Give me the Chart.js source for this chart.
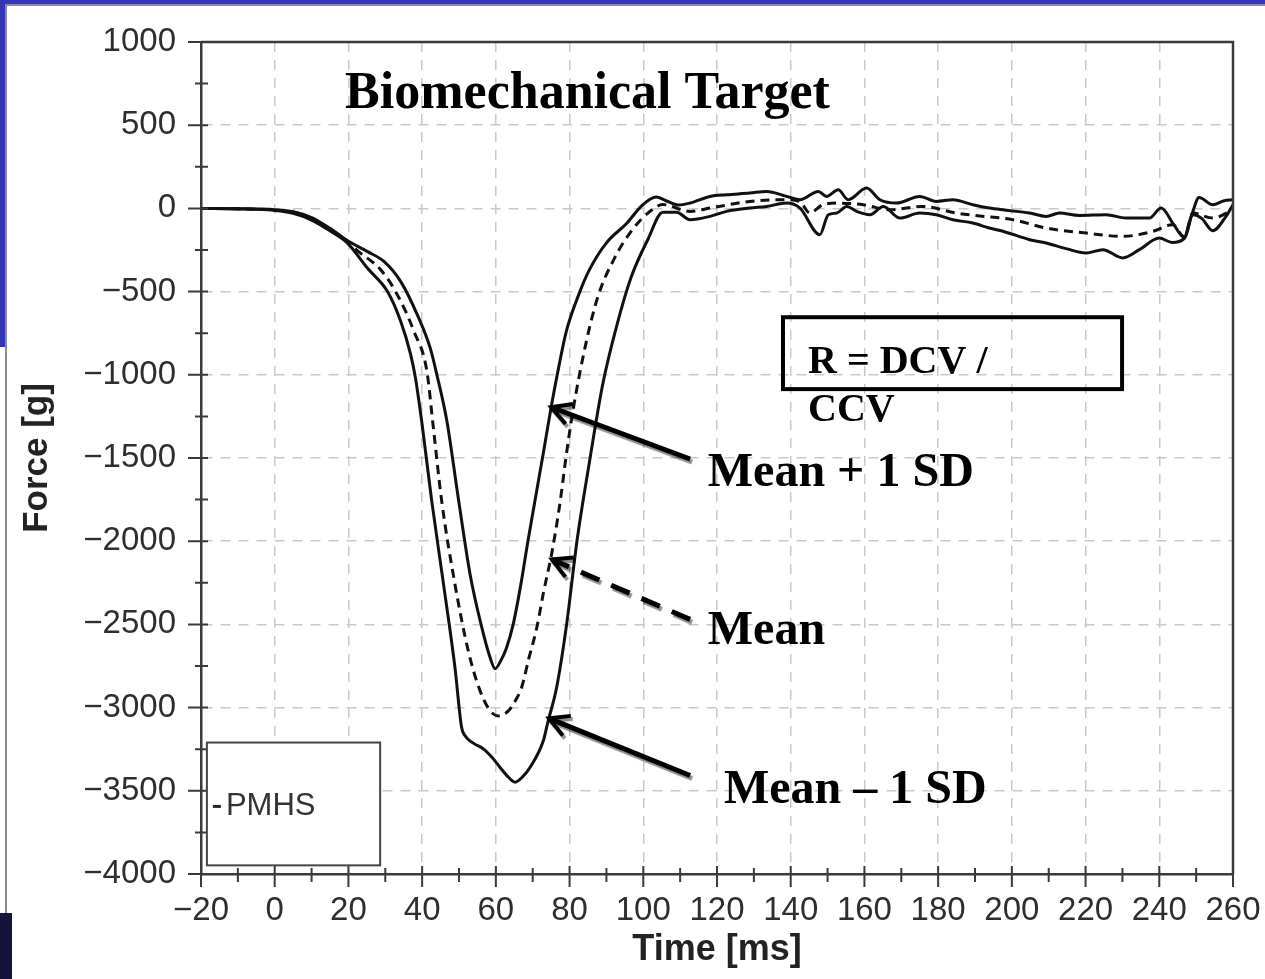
<!DOCTYPE html>
<html>
<head>
<meta charset="utf-8">
<title>PMHS force – biomechanical target</title>
<script src="https://cdn.jsdelivr.net/npm/chart.js@4.4.1/dist/chart.umd.min.js"></script>
<style>
  html, body { margin: 0; padding: 0; background: #fff; overflow: hidden; }
  #wrap { position: relative; width: 1265px; height: 979px; }
  #chart { position: absolute; left: 0; top: 0; }
  .edge { position: absolute; }
</style>
</head>
<body>
<div id="wrap">
  <canvas id="chart" width="1265" height="979"></canvas>
  <!-- slide frame showing around the plot -->
  <div class="edge" style="left:0;top:0;width:1265px;height:4px;background:#3535b5"></div>
  <div class="edge" style="left:0;top:4px;width:1265px;height:2px;background:#8a8a9a"></div>
  <div class="edge" style="left:0;top:0;width:5px;height:347px;background:#3535b5"></div>
  <div class="edge" style="left:5px;top:4px;width:2px;height:975px;background:#8a8a8a"></div>
  <div class="edge" style="left:0;top:913px;width:12px;height:66px;background:#14143a"></div>
</div>
<script>
// axis ticks
const xTicks = [-20, 0, 20, 40, 60, 80, 100, 120, 140, 160, 180, 200, 220, 240, 260];
const yTicks = [-4000, -3500, -3000, -2500, -2000, -1500, -1000, -500, 0, 500, 1000];

// Mean + 1 SD corridor
const upperTime = [-20, -10, 0, 5, 10, 15, 19.8, 25.2, 29.7, 34.2, 38.7, 42.2, 44, 46.7, 49.8,
  53, 56.2, 58.3, 59.8, 61.3, 62.9, 64.7, 66.7, 68.7, 70.6, 72.8, 75, 77, 79.1, 82.7,
  85.4, 90, 95.4, 99.9, 103.5, 106.2, 109.5, 112.7, 118.1, 122.6, 128.9, 133.5, 138.9, 142.5, 147.5,
  149.7, 152.9, 155.6, 160.6, 164.2, 168.7, 175, 179.5, 184, 189.4, 193.9, 198, 204.8, 209.3, 212.9,
  218.3, 225.6, 231, 237.3, 240.5, 244, 246.8, 248.8, 250.8, 254.5, 257.6, 260];
const upperForce = [0, -2, -8, -20, -55, -120, -195, -260, -320, -440, -640, -840, -1000, -1276, -1740,
  -2198, -2520, -2690, -2766, -2720, -2640, -2500, -2270, -2000, -1758, -1480, -1195, -960, -740, -506,
  -368, -207, -92, 23, 69, 46, 20, 32, 72, 82, 92, 102, 72, 52, 102,
  72, 112, 52, 122, 52, 32, 72, 42, 52, 22, 2, -10, -28, -48, -28,
  -42, -38, -58, -58, 2, -100, -175, -40, 66, 22, 46, 52];

// Mean
const meanTime = [-20, -10, 0, 5, 10, 15, 19.8, 22.5, 28.8, 33.3, 37.8, 41.3, 43, 45.3, 48.9,
  52.5, 55.7, 58.4, 60.6, 62.2, 63.8, 65.5, 67, 69, 71.1, 73, 75.1, 77.4, 79, 80.9,
  84.5, 87.7, 92.2, 96.7, 102.2, 105.3, 112.7, 118.1, 128.9, 138.9, 142.5, 145.2, 148.5, 152.5, 159.7,
  166.9, 175.9, 184.9, 191.3, 200.3, 209.3, 220.1, 230.1, 238.2, 243.6, 246.8, 249.1, 254.5, 260];
const meanForce = [0, -2, -10, -22, -60, -125, -200, -255, -370, -520, -740, -980, -1310, -1758, -2258,
  -2658, -2898, -3018, -3050, -3040, -3010, -2950, -2878, -2700, -2520, -2300, -2080, -1770, -1500, -1218,
  -805, -529, -299, -138, -11, 23, -18, 2, 42, 52, 40, -28, 20, 32, 22,
  -8, 12, -28, -45, -68, -118, -148, -168, -138, -98, -170, -28, -58, -8];

// Mean - 1 SD corridor
const lowerTime = [-20, -10, 0, 5, 10, 15, 19.8, 25.2, 30.6, 34.2, 36.9, 38.2, 40, 42.6, 45.8,
  48.9, 50.7, 51.6, 54, 56.6, 59, 61.1, 63.5, 65.2, 67.3, 69.3, 72.9, 74.1, 76.5, 79.2,
  82, 85.2, 89, 92.7, 96.7, 101.3, 105.3, 109, 112.7, 118.1, 122.6, 128.9, 133.5, 138.9, 142.5,
  147.9, 150.2, 152.5, 155.2, 157.9, 161.5, 165.1, 169.6, 175, 179.5, 184, 189.4, 193.9, 198, 204.8,
  209.3, 214.7, 220.1, 224.7, 230.1, 234.6, 240, 243.5, 246.8, 249.1, 251.5, 254.5, 258.1, 260];
const lowerForce = [0, -3, -12, -30, -70, -135, -210, -360, -500, -680, -880, -1020, -1300, -1758, -2258,
  -2758, -3118, -3168, -3215, -3248, -3300, -3358, -3420, -3448, -3415, -3358, -3198, -3088, -2878, -2500,
  -2000, -1550, -1057, -713, -414, -184, -23, -23, -68, -48, -18, 2, 12, 32, 2,
  -158, -38, -28, 12, -18, -38, 12, -58, -28, -38, -68, -88, -118, -140, -188,
  -208, -242, -268, -248, -298, -248, -178, -205, -180, -38, -60, -134, -48, 22];

const legendLabel = 'PMHS';

const sansFont = "'Liberation Sans', Arial, Helvetica, sans-serif";
const serifFont = "'Liberation Serif', 'Times New Roman', serif";
const axisColor = '#3a3a3a';

function points(ts, fs) {
  return ts.map((t, i) => ({x: t, y: fs[i]}));
}

function fmt(v) {
  return v < 0 ? '\u2212' + Math.abs(v) : String(v);
}

// labels and arrows placed in data units
const notes = [
  {text: 'Biomechanical Target', x: 19.1, y: 606, size: 52},
  {text: 'R = DCV /', x: 144.7, y: -990, size: 40},
  {text: 'CCV', x: 144.7, y: -1278, size: 40},
  {text: 'Mean + 1 SD', x: 117.5, y: -1668, size: 48},
  {text: 'Mean', x: 117.5, y: -2616, size: 48},
  {text: 'Mean \u2013 1 SD', x: 121.9, y: -3576, size: 48},
];
const arrows = [
  {from: [112.7, -1506], to: [75, -1195], dashed: false},
  {from: [112.7, -2470], to: [75.2, -2110], dashed: true},
  {from: [112.7, -3408], to: [74.4, -3065], dashed: false},
];
const rBox = {x1: 137.9, y1: -654, x2: 229.9, y2: -1086};
const legendBox = {x1: -18.4, y1: -3210, x2: 28.6, y2: -3948};

function drawArrow(ctx, x1, y1, x2, y2, dashed) {
  const ang = Math.atan2(y2 - y1, x2 - x1);
  ctx.save();
  ctx.strokeStyle = '#000';
  ctx.shadowColor = 'rgba(0,0,0,0.45)';
  ctx.shadowOffsetX = 2;
  ctx.shadowOffsetY = 3;
  ctx.shadowBlur = 1;
  ctx.lineWidth = 5;
  ctx.setLineDash(dashed ? [20, 13] : []);
  ctx.beginPath();
  ctx.moveTo(x1, y1);
  ctx.lineTo(x2, y2);
  ctx.stroke();
  ctx.setLineDash([]);
  ctx.lineWidth = 4;
  const len = 22, spread = 0.5;
  ctx.beginPath();
  ctx.moveTo(x2 - len * Math.cos(ang - spread), y2 - len * Math.sin(ang - spread));
  ctx.lineTo(x2, y2);
  ctx.lineTo(x2 - len * Math.cos(ang + spread), y2 - len * Math.sin(ang + spread));
  ctx.stroke();
  ctx.restore();
}

// frame, crossing tick marks, legend box and annotations
const decorations = {
  id: 'decorations',
  afterDatasetsDraw(chart) {
    const {ctx, chartArea: a, scales: {x, y}} = chart;
    const px = v => x.getPixelForValue(v);
    const py = v => y.getPixelForValue(v);

    ctx.save();
    ctx.strokeStyle = axisColor;
    ctx.lineWidth = 2.5;
    ctx.beginPath();
    ctx.moveTo(a.left, a.top);
    ctx.lineTo(a.right, a.top);
    ctx.lineTo(a.right, a.bottom);
    ctx.stroke();

    // tick marks crossing the axes
    ctx.lineWidth = 2;
    ctx.beginPath();
    yTicks.forEach((v, i) => {
      const yy = py(v);
      ctx.moveTo(a.left - 13, yy);
      ctx.lineTo(a.left + 7, yy);
      if (i < yTicks.length - 1) {
        const ym = py((v + yTicks[i + 1]) / 2);
        ctx.moveTo(a.left - 6, ym);
        ctx.lineTo(a.left + 7, ym);
      }
    });
    xTicks.forEach((v, i) => {
      const xx = px(v);
      ctx.moveTo(xx, a.bottom - 8);
      ctx.lineTo(xx, a.bottom + 13);
      if (i < xTicks.length - 1) {
        const xm = px((v + xTicks[i + 1]) / 2);
        ctx.moveTo(xm, a.bottom - 6);
        ctx.lineTo(xm, a.bottom + 8);
      }
    });
    ctx.stroke();

    // legend
    const lx = px(legendBox.x1), ly = py(legendBox.y1);
    const lw = px(legendBox.x2) - lx, lh = py(legendBox.y2) - ly;
    ctx.fillStyle = '#fff';
    ctx.fillRect(lx, ly, lw, lh);
    ctx.strokeStyle = '#444';
    ctx.lineWidth = 2;
    ctx.strokeRect(lx, ly, lw, lh);
    const midY = ly + lh * 0.52;
    ctx.strokeStyle = '#222';
    ctx.lineWidth = 3;
    ctx.beginPath();
    ctx.moveTo(lx + 6, midY);
    ctx.lineTo(lx + 14, midY);
    ctx.stroke();
    ctx.fillStyle = '#333';
    ctx.font = '31px ' + sansFont;
    ctx.textBaseline = 'middle';
    ctx.fillText(legendLabel, lx + 19, midY);

    // R box
    ctx.strokeStyle = '#000';
    ctx.lineWidth = 4;
    ctx.strokeRect(px(rBox.x1), py(rBox.y1), px(rBox.x2) - px(rBox.x1), py(rBox.y2) - py(rBox.y1));

    // text notes
    ctx.fillStyle = '#000';
    ctx.textBaseline = 'alphabetic';
    notes.forEach(n => {
      ctx.font = 'bold ' + n.size + 'px ' + serifFont;
      ctx.fillText(n.text, px(n.x), py(n.y));
    });
    ctx.restore();

    arrows.forEach(r => drawArrow(ctx, px(r.from[0]), py(r.from[1]), px(r.to[0]), py(r.to[1]), r.dashed));
  }
};

function curve(label, ts, fs, dash) {
  return {
    label: label,
    data: points(ts, fs),
    borderColor: '#111',
    borderWidth: 3,
    borderDash: dash,
    pointRadius: 0,
    fill: false,
    cubicInterpolationMode: 'monotone',
  };
}

const gridColor = ctx => {
  const v = ctx.tick && ctx.tick.value;
  const s = ctx.scale;
  return (v === s.min || v === s.max) ? 'rgba(0,0,0,0)' : '#c9c9c9';
};

new Chart(document.getElementById('chart'), {
  type: 'line',
  data: {
    datasets: [
      curve('Mean', meanTime, meanForce, [9, 6]),
      curve('Mean + 1 SD', upperTime, upperForce, []),
      curve('Mean - 1 SD', lowerTime, lowerForce, []),
    ],
  },
  options: {
    responsive: false,
    animation: false,
    events: [],
    layout: {padding: {left: 0, top: 42, right: 32, bottom: 0}},
    plugins: {legend: {display: false}, tooltip: {enabled: false}},
    scales: {
      x: {
        type: 'linear',
        min: -20,
        max: 260,
        afterBuildTicks: s => { s.ticks = xTicks.map(v => ({value: v})); },
        afterFit: s => { s.height = 105; s.paddingLeft = 0; s.paddingRight = 0; },
        ticks: {
          autoSkip: false, maxRotation: 0, padding: 17, color: '#2e2e2e',
          font: {family: sansFont, size: 33}, callback: v => fmt(v),
        },
        grid: {color: gridColor, lineWidth: 1.5, drawTicks: false},
        border: {display: true, color: axisColor, width: 2.5, dash: [10, 8]},
        title: {
          display: true, text: 'Time [ms]', color: '#222',
          font: {family: sansFont, size: 36, weight: 'bold'}, padding: {top: 0, bottom: 7},
        },
      },
      y: {
        type: 'linear',
        min: -4000,
        max: 1000,
        afterBuildTicks: s => { s.ticks = yTicks.map(v => ({value: v})); },
        afterFit: s => { s.width = 201; s.paddingTop = 0; s.paddingBottom = 0; },
        ticks: {
          autoSkip: false, padding: 25, color: '#2e2e2e',
          font: {family: sansFont, size: 33}, callback: v => fmt(v),
        },
        grid: {color: gridColor, lineWidth: 1.5, drawTicks: false},
        border: {display: true, color: axisColor, width: 2.5, dash: [10, 8]},
        title: {
          display: true, text: 'Force [g]', color: '#222',
          font: {family: sansFont, size: 35, weight: 'bold'}, padding: {top: 16, bottom: 0},
        },
      },
    },
  },
  plugins: [decorations],
});
</script>
</body>
</html>
